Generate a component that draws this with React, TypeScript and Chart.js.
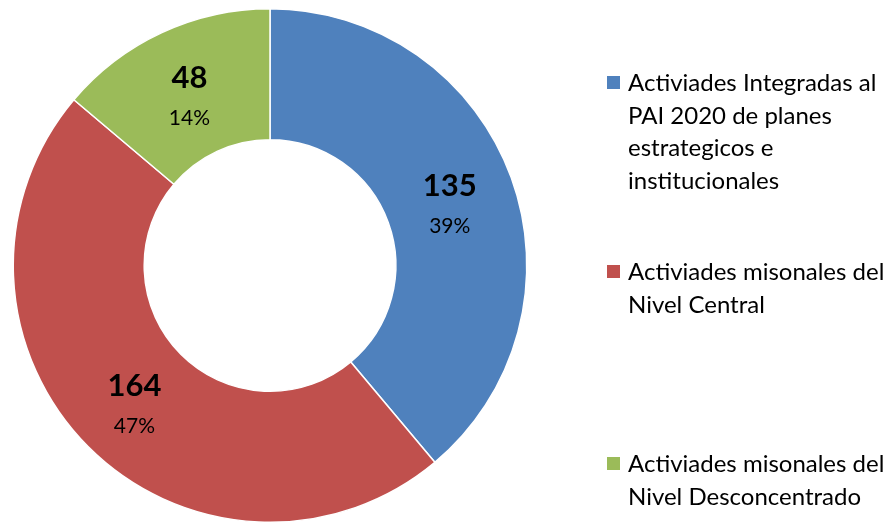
import React, { useEffect, useRef } from "react";
import { Chart, registerables } from "chart.js";

Chart.register(...registerables);

const labels = [
  "Activiades Integradas al PAI 2020 de planes estrategicos e institucionales",
  "Activiades misonales del Nivel Central",
  "Activiades misonales del Nivel Desconcentrado",
];
const legendLines = [
  ["Activiades Integradas al", "PAI 2020 de planes", "estrategicos e", "institucionales"],
  ["Activiades misonales del", "Nivel Central"],
  ["Activiades misonales del", "Nivel Desconcentrado"],
];
const values = [135, 164, 48];
const percents = ["39%", "47%", "14%"];
const colors = ["#4F81BD", "#C0504D", "#9BBB59"];
const legendTops = [66, 255, 447];

const FONT = "Lato, 'Open Sans', sans-serif";

const labelPlugin = {
  id: "valueLabels",
  afterDatasetsDraw(chart: any) {
    const ctx = chart.ctx;
    const meta = chart.getDatasetMeta(0);
    meta.data.forEach((arc: any, i: number) => {
      const p = arc.tooltipPosition();
      ctx.save();
      ctx.fillStyle = "#000";
      ctx.textAlign = "center";
      ctx.textBaseline = "middle";
      ctx.font = `bold 31px ${FONT}`;
      ctx.fillText(String(values[i]), p.x, p.y - 14);
      ctx.font = `21px ${FONT}`;
      ctx.fillText(percents[i], p.x, p.y + 26);
      ctx.restore();
    });
  },
};

export default function App() {
  const ref = useRef<HTMLCanvasElement>(null);
  useEffect(() => {
    if (!ref.current) return;
    const chart = new Chart(ref.current, {
      type: "doughnut",
      data: {
        labels,
        datasets: [
          {
            data: values,
            backgroundColor: colors,
            borderColor: "#ffffff",
            borderWidth: 1.5,
          },
        ],
      },
      options: {
        animation: false,
        responsive: false,
        cutout: "49%",
        layout: { padding: { top: 8, bottom: 0, left: 11, right: 362 } },
        plugins: { legend: { display: false }, tooltip: { enabled: false } },
      },
      plugins: [labelPlugin],
    });
    return () => chart.destroy();
  }, []);

  return (
    <div style={{ position: "fixed", left: 0, top: 0, width: 891, height: 523, background: "#fff" }}>
      <canvas ref={ref} width={891} height={523} style={{ position: "absolute", left: 0, top: 0 }} />
      {legendLines.map((lines, i) => (
        <div
          key={i}
          style={{
            position: "absolute",
            left: 607,
            top: legendTops[i],
            fontFamily: FONT,
            fontSize: 24,
            lineHeight: "32.7px",
            color: "#000",
          }}
        >
          <span
            style={{
              position: "absolute",
              left: 0,
              top: 10,
              width: 13,
              height: 13,
              background: colors[i],
            }}
          />
          {lines.map((l, j) => (
            <div key={j} style={{ marginLeft: 21, whiteSpace: "nowrap" }}>
              {l}
            </div>
          ))}
        </div>
      ))}
    </div>
  );
}
